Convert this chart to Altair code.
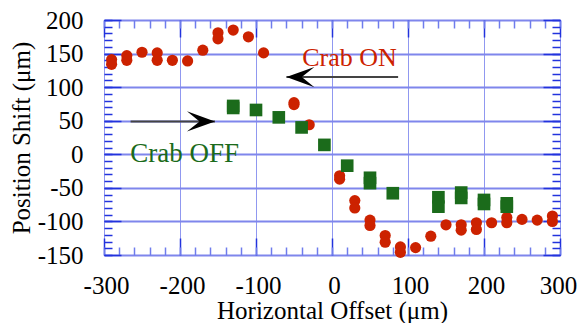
import altair as alt
import pandas as pd

# ---- data ----
on_x = [-290, -290, -270, -270, -250, -230, -230, -210, -190, -170, -150, -150,
        -130, -110, -90, -50, -50, -30, 10, 10, 30, 30, 50, 50, 70, 70, 90, 90,
        110, 130, 150, 170, 170, 190, 190, 210, 230, 230, 250, 270, 290, 290]
on_y = [141, 134, 147, 140, 152, 151, 140, 140, 139, 155, 181, 172,
        185, 175, 151, 77, 74, 44, -32, -37, -69, -80, -98, -106, -121, -131, -138, -146,
        -139, -122, -105, -105, -113, -102, -112, -102, -94, -102, -97, -98, -92, -100]

off_x = [-130, -130, -100, -70, -40, -10, 20, 50, 50, 80, 140, 140, 170, 170, 200, 200, 230, 230]
off_y = [72, 69, 66, 55, 40, 14, -17, -35, -43, -58, -64, -78, -57, -65, -68, -74, -73, -78]

# annotations (data units)
label_text = ["Crab ON", "Crab OFF"]
label_x = [23, -194]
label_y = [131, -11]
arrow_tail = [87, -265]
arrow_tip = [-60, -154]
arrow_y = [115, 49]

x_major = [-300, -200, -100, 0, 100, 200, 300]
x_minor = list(range(-300, 301, 20))
y_major = [-150, -100, -50, 0, 50, 100, 150, 200]
y_minor = list(range(-150, 201, 10))

RED = "#cc2200"
GREEN = "#1b6b1b"
BLUE = "#2233dd"
FONT = "Liberation Serif"

on_df = pd.DataFrame({"x": on_x, "y": on_y})
off_df = pd.DataFrame({"x": off_x, "y": off_y})
on_lab = pd.DataFrame({"x": [label_x[0]], "y": [label_y[0]], "t": [label_text[0]]})
off_lab = pd.DataFrame({"x": [label_x[1]], "y": [label_y[1]], "t": [label_text[1]]})
arr_df = pd.DataFrame({"x": arrow_tail, "x2": arrow_tip, "y": arrow_y})
head_l = pd.DataFrame({"x": [arrow_tip[0]], "y": [arrow_y[0]]})
head_r = pd.DataFrame({"x": [arrow_tip[1]], "y": [arrow_y[1]]})

xs = alt.Scale(domain=[-300, 300], nice=False, zero=False)
ys = alt.Scale(domain=[-150, 200], nice=False, zero=False)


def tick_axis(orient, values, size, color=BLUE, width=1.5):
    return alt.Axis(orient=orient, values=values, offset=-size, tickSize=size,
                    labels=False, domain=False, grid=False, title=None,
                    ticks=True, tickColor=color, tickWidth=width)


x_label_axis = alt.Axis(orient="bottom", values=x_major, title="Horizontal Offset (μm)",
                        ticks=False, tickSize=0, domain=False, grid=True,
                        gridColor="#9098f0", gridWidth=1,
                        labelFont=FONT, labelFontSize=25, labelColor="black",
                        labelPadding=18, labelFlush=False, labelOverlap=False,
                        labelOffset={"condition": {"test": "datum.value >= 300", "value": -2},
                                     "value": 2},
                        labelExpr="'' + datum.value",
                        titleFont=FONT, titleFontSize=25, titleFontWeight="normal",
                        titleColor="black", titlePadding=0)
y_label_axis = alt.Axis(orient="left", values=y_major, title="Position Shift (μm)",
                        ticks=False, tickSize=0, domain=False, grid=True,
                        gridColor="#7f86ec", gridWidth=2,
                        labelFont=FONT, labelFontSize=25, labelColor="black",
                        labelPadding=21, labelOverlap=False,
                        labelExpr="'' + datum.value",
                        titleFont=FONT, titleFontSize=25, titleFontWeight="normal",
                        titleColor="black", titlePadding=3)

red = alt.Chart(on_df).mark_circle(size=125, color=RED, opacity=1).encode(
    x=alt.X("x:Q", scale=xs, axis=x_label_axis),
    y=alt.Y("y:Q", scale=ys, axis=y_label_axis),
)
green = alt.Chart(off_df).mark_square(size=160, color=GREEN, opacity=1).encode(
    x=alt.X("x:Q", scale=xs, axis=tick_axis("bottom", x_major, 17)),
    y=alt.Y("y:Q", scale=ys, axis=tick_axis("left", y_major, 17)),
)
t_on = alt.Chart(on_lab).mark_text(font=FONT, fontSize=26, color=RED, align="center",
                                   baseline="alphabetic").encode(
    x=alt.X("x:Q", scale=xs, axis=tick_axis("bottom", x_minor, 8, "#6f7cec", 1.5)),
    y=alt.Y("y:Q", scale=ys, axis=tick_axis("left", y_minor, 8)),
    text="t:N",
)
t_off = alt.Chart(off_lab).mark_text(font=FONT, fontSize=27, color=GREEN, align="center",
                                     baseline="alphabetic").encode(
    x=alt.X("x:Q", scale=xs, axis=tick_axis("top", x_major, 17)),
    y=alt.Y("y:Q", scale=ys, axis=tick_axis("right", y_major, 17)),
    text="t:N",
)
lines = alt.Chart(arr_df).mark_rule(color="#444444", strokeWidth=2).encode(
    x=alt.X("x:Q", scale=xs, axis=tick_axis("top", x_minor, 8, "#6f7cec", 1.5)),
    x2="x2:Q",
    y=alt.Y("y:Q", scale=ys, axis=tick_axis("right", y_minor, 8)),
)
LEFT_HEAD = "M 0 0 L 2 -0.72 L 1.1 0 L 2 0.72 Z"
RIGHT_HEAD = "M 0 0 L -2 -0.72 L -1.1 0 L -2 0.72 Z"
hl = alt.Chart(head_l).mark_point(shape=LEFT_HEAD, filled=True, size=784, color="black",
                                  opacity=1, strokeWidth=0).encode(
    x=alt.X("x:Q", scale=xs, axis=None),
    y=alt.Y("y:Q", scale=ys, axis=None),
)
hr = alt.Chart(head_r).mark_point(shape=RIGHT_HEAD, filled=True, size=784, color="black",
                                  opacity=1, strokeWidth=0).encode(
    x=alt.X("x:Q", scale=xs, axis=None),
    y=alt.Y("y:Q", scale=ys, axis=None),
)

chart = alt.layer(red, green, t_on, t_off, lines, hl, hr).resolve_axis(
    x="independent", y="independent"
).properties(
    width=456, height=235,
    autosize=alt.AutoSizeParams(type="none"),
    padding={"left": 96, "top": 12, "right": 17, "bottom": 68},
).configure_view(stroke=BLUE, strokeWidth=2).configure(background="white")

chart.save("out.html", embed_options={"renderer": "svg", "actions": False})
